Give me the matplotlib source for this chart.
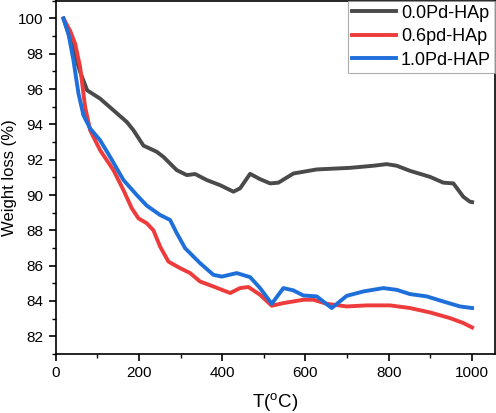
import numpy as np
import matplotlib
matplotlib.use('Agg')
import matplotlib.pyplot as plt
from matplotlib.ticker import MultipleLocator

plt.rcParams['font.family'] = ['Liberation Sans', 'DejaVu Sans']
plt.rcParams['mathtext.default'] = 'regular'

# 0.0Pd-HAp
t_00 = [19, 39, 59, 76, 107, 139, 171, 187, 211, 243, 259, 291, 315, 335, 363, 395, 427, 443,
        467, 491, 515, 535, 571, 627, 707, 763, 795, 819, 851, 899, 931, 955, 979, 995, 1000]
w_00 = [100, 98.57, 96.97, 95.93, 95.46, 94.8, 94.14, 93.67, 92.8, 92.45, 92.16, 91.41, 91.13,
        91.19, 90.85, 90.56, 90.19, 90.38, 91.2, 90.9, 90.66, 90.7, 91.22, 91.45, 91.54, 91.66,
        91.75, 91.66, 91.37, 91.03, 90.7, 90.66, 89.9, 89.62, 89.6]

# 0.6pd-HAp
t_06 = [19, 35, 47, 59, 71, 83, 107, 139, 163, 183, 199, 219, 235, 251, 271, 299, 323, 347,
        379, 419, 443, 463, 491, 519, 547, 595, 619, 651, 699, 747, 803, 851, 899, 947, 979, 1000]
w_06 = [100, 99.3, 98.57, 97.25, 94.99, 93.67, 92.54, 91.41, 90.28, 89.25, 88.68, 88.4, 88.0,
        87.08, 86.23, 85.86, 85.58, 85.1, 84.82, 84.45, 84.73, 84.79, 84.35, 83.73, 83.88, 84.07,
        84.07, 83.84, 83.69, 83.75, 83.75, 83.6, 83.35, 83.03, 82.75, 82.5]

# 1.0Pd-HAP
t_10 = [19, 31, 43, 55, 67, 83, 107, 131, 163, 195, 219, 251, 275, 291, 311, 347, 379, 399,
        435, 467, 491, 519, 547, 571, 595, 627, 663, 699, 739, 787, 819, 851, 891, 931, 971, 1000]
w_10 = [100, 99.13, 97.63, 95.75, 94.52, 93.77, 93.1, 92.16, 90.85, 90.0, 89.4, 88.87, 88.59,
        87.84, 86.99, 86.14, 85.48, 85.38, 85.58, 85.35, 84.73, 83.84, 84.73, 84.6, 84.31, 84.26,
        83.6, 84.29, 84.54, 84.73, 84.63, 84.39, 84.26, 83.97, 83.69, 83.6]

fig = plt.figure(figsize=(4.96, 4.13), dpi=100)
ax = fig.add_axes([0.112, 0.143, 0.886, 0.855])

ax.plot(t_00, w_00, color='#4a4a4a', lw=2.8, label='0.0Pd-HAp')
ax.plot(t_06, w_06, color='#ee3b3b', lw=2.8, label='0.6pd-HAp')
ax.plot(t_10, w_10, color='#1f6fdb', lw=2.8, label='1.0Pd-HAP')

ax.set_xlim(0, 1055)
ax.set_ylim(81, 101)
ax.xaxis.set_major_locator(MultipleLocator(200))
ax.xaxis.set_minor_locator(MultipleLocator(100))
ax.yaxis.set_major_locator(MultipleLocator(2))
ax.yaxis.set_minor_locator(MultipleLocator(1))
ax.tick_params(which='major', direction='out', length=5, width=1.2, labelsize=11)
ax.tick_params(which='minor', direction='out', length=3, width=1.0)
for spine in ['top', 'bottom', 'left', 'right']:
    ax.spines[spine].set_linewidth(1.2)

ax.set_xlabel('T($^{o}$C)', fontsize=13.5, labelpad=8)
ax.set_ylabel('Weight loss (%)', fontsize=12, labelpad=1)

leg = ax.legend(loc='upper right', fontsize=13, handlelength=2.4, borderaxespad=0,
                borderpad=0.22, labelspacing=0.36, handletextpad=0.3, fancybox=False)
leg.get_frame().set_edgecolor('#999999')
leg.get_frame().set_linewidth(0.8)

plt.savefig('out.png', dpi=100)
